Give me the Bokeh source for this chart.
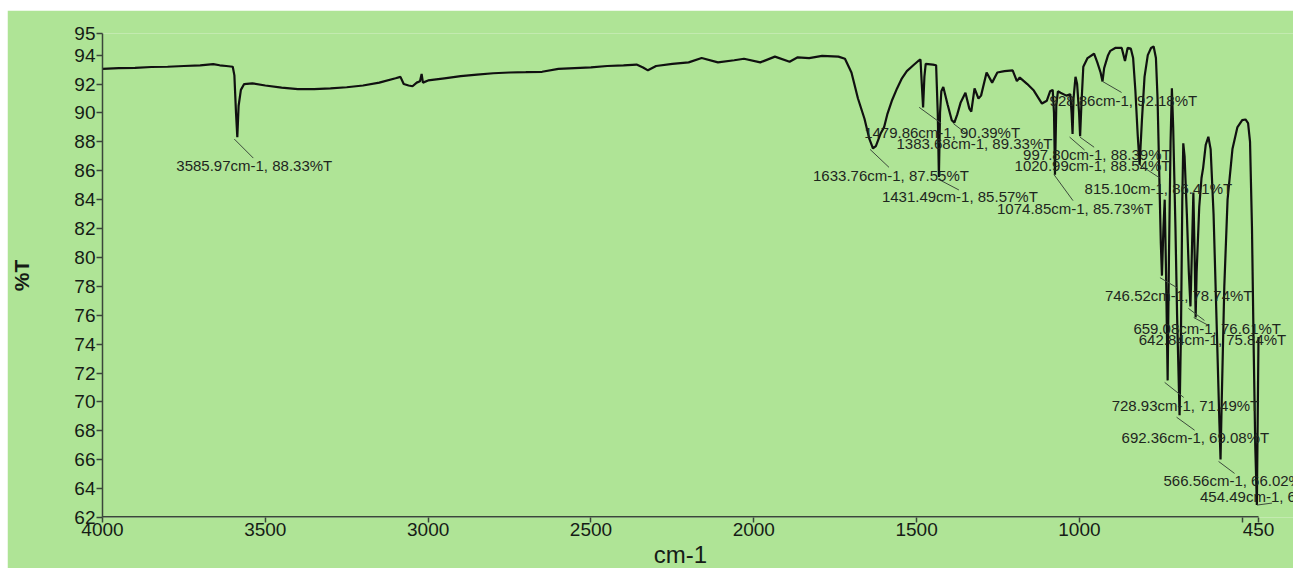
from bokeh.plotting import figure
from bokeh.models import Range1d, FixedTicker, ColumnDataSource, LabelSet, Arrow, Title
from bokeh.core.properties import value
from bokeh.embed import file_html
from bokeh.resources import INLINE

# ---- spectrum (wavenumber cm-1, %T) ----
wavenumber = [4000, 3950, 3900, 3850, 3800, 3750, 3700, 3660, 3640, 3620, 3600, 3595, 3590, 3586, 3582, 3575, 3565,
              3540, 3500, 3450, 3400, 3350, 3300, 3250, 3200, 3150, 3100, 3085, 3075, 3060, 3048, 3035, 3025, 3020,
              3016, 3000, 2950, 2900, 2850, 2800, 2750, 2700, 2650, 2600, 2550, 2500, 2450, 2400, 2360, 2340, 2325,
              2300, 2250, 2200, 2160, 2110, 2060, 2030, 1980, 1935, 1890, 1865, 1830, 1790, 1740, 1720, 1700, 1680,
              1660, 1645, 1634, 1625, 1610, 1600, 1590, 1575, 1560, 1545, 1530, 1510, 1495, 1488, 1484, 1480, 1476,
              1472, 1450, 1440, 1435, 1431.5, 1428, 1424, 1418, 1405, 1392, 1384, 1375, 1365, 1350, 1338, 1332, 1322,
              1310, 1302, 1285, 1268, 1252, 1230, 1205, 1192, 1183, 1160, 1140, 1115, 1100, 1090, 1082, 1078, 1075,
              1071, 1066, 1058, 1040, 1028, 1024, 1021, 1018, 1012, 1007, 1001, 997.8, 994, 988, 975, 955, 945, 935,
              929, 924, 912, 905, 890, 880, 870, 860, 852, 842, 835, 828, 821, 815.1, 808, 800, 790, 780, 772, 765,
              760, 755, 750, 746.5, 742, 738, 734, 729, 725, 720, 716, 712, 705, 700, 692.4, 688, 684, 681, 677, 670,
              664, 659, 655, 650, 646, 643, 640, 632, 625, 620, 612, 604, 597, 588, 578, 570, 566.6, 563, 555, 545,
              530, 515, 500, 490, 482, 476, 470, 465, 460, 455, 450]
transmittance = [93.05, 93.1, 93.12, 93.18, 93.2, 93.25, 93.3, 93.38, 93.3, 93.25, 93.2, 92.6, 90.0, 88.33, 90.5, 91.6,
                 92.0, 92.05, 91.9, 91.75, 91.65, 91.65, 91.7, 91.78, 91.9, 92.1, 92.4, 92.5, 92.0, 91.9, 91.85, 92.1,
                 92.2, 92.7, 92.1, 92.25, 92.4, 92.55, 92.65, 92.75, 92.8, 92.82, 92.85, 93.05, 93.1, 93.15, 93.25,
                 93.3, 93.35, 93.15, 92.95, 93.25, 93.4, 93.5, 93.8, 93.5, 93.65, 93.75, 93.5, 93.9, 93.55, 93.85,
                 93.8, 93.95, 93.9, 93.75, 92.8, 91.0, 89.6, 88.2, 87.55, 87.7, 88.6, 89.0, 89.9, 90.9, 91.7, 92.4,
                 92.9, 93.3, 93.6, 93.7, 92.0, 90.39, 92.5, 93.4, 93.35, 93.3, 90.0, 85.57, 90.0, 91.5, 91.8, 90.6,
                 89.5, 89.33, 89.9, 90.7, 91.4, 90.3, 90.1, 91.7, 91.0, 91.2, 92.8, 92.1, 92.8, 92.9, 92.95, 92.2,
                 92.45, 92.0, 91.55, 90.65, 90.85, 91.5, 91.6, 90.0, 85.73, 90.5, 91.5, 91.4, 91.2, 91.3, 90.0, 88.54,
                 91.0, 92.5, 92.0, 90.0, 88.39, 90.5, 93.2, 93.8, 94.1, 93.5, 92.8, 92.18, 93.1, 94.0, 94.3, 94.5,
                 94.5, 94.5, 93.6, 94.5, 94.45, 93.8, 91.5, 88.5, 86.41, 89.5, 92.5, 94.0, 94.5, 94.6, 93.8, 91.0,
                 86.0, 81.0, 78.74, 82.0, 84.0, 79.0, 71.49, 80.0, 88.0, 91.7, 89.0, 82.0, 76.0, 69.08, 75.0, 84.0,
                 87.9, 87.0, 83.0, 79.0, 76.61, 80.0, 84.5, 80.0, 75.84, 79.0, 83.5, 85.5, 86.2, 87.8, 88.35, 87.5,
                 83.0, 75.0, 68.5, 66.02, 70.0, 78.0, 84.0, 87.5, 89.0, 89.5, 89.55, 89.3, 88.0, 82.0, 74.0, 67.0,
                 62.86, 74.5]

# ---- peak annotations ----
peak_wn = [3585.97, 1633.76, 1479.86, 1383.68, 1431.49, 1074.85, 928.86, 997.80, 1020.99, 815.10,
           746.52, 659.08, 642.84, 728.93, 692.36, 566.56, 454.49]
peak_t = [88.33, 87.55, 90.39, 89.33, 85.57, 85.73, 92.18, 88.39, 88.54, 86.41,
          78.74, 76.61, 75.84, 71.49, 69.08, 66.02, 62.86]
peak_text = [f"{w:.2f}cm-1, {t:.2f}%T" for w, t in zip(peak_wn, peak_t)]

# ---- axis ticks ----
x_ticks = [4000, 3500, 3000, 2500, 2000, 1500, 1000, 500, 450]
y_ticks = [62, 64, 66, 68, 70, 72, 74, 76, 78, 80, 82, 84, 86, 88, 90, 92, 94, 95.5]

# ---- layout (screen-pixel offsets of leaders and labels from each peak; +down) ----
lead_s_dx = [-3, -3, -4, -1, -1, -1, 0, 0, -3, 0, -2, -2, -2, -3, -3, -2, 0]
lead_s_dy = [2, 1, 0, 1, 2, 0, 0, 1, 3, 0, 2, 2, 0, 2, 2, 2, 0]
lead_e_dx = [16, 16, 18, 12, 20, 18, 19, 14, 12, 20, 15, 14, 13, 16, 15, 14, 15]
lead_e_dy = [21, 19, 16, 11, 13, 26, 11, 11, 16, 13, 12, 14, 8, 17, 15, 14, -2]
text_dx = [-61, -60, -59, -58, -57, -58, -53, -57, -58, -55, -57, -57, -57, -56, -58, -57, -57]
text_dy = [28, 27, 25, 21, 20, 34, 19, 18, 31, 24, 20, 22, 22, 25, 22, 21, -9]

X0, X1 = 4000, 450
Y0, Y1 = 62, 95.5
AXW, FH = 1156, 484          # drawn axis length / frame height in px
EXTRA = 36                   # frame continues past the 450 end so labels are not cut
sx = AXW / (X0 - X1)
sy = FH / (Y1 - Y0)

BG = "#afe496"
INK = "#161c16"
FONT = "Liberation Sans"

p = figure(frame_width=AXW + EXTRA, frame_height=FH, output_backend="svg", toolbar_location=None,
           x_range=Range1d(X0, X1 - EXTRA / sx), y_range=Range1d(Y0, Y1),
           min_border_left=94, min_border_top=23, min_border_right=0, min_border_bottom=51,
           background_fill_color=BG, border_fill_color=BG, outline_line_color=None)
p.margin = (10, 0, 0, 7)
p.grid.visible = False

# bottom axis line only over the 4000..450 span
p.segment(x0=[X0], y0=[Y0], x1=[X1], y1=[Y0], line_color="#3a463a", line_width=3)

p.line(wavenumber, transmittance, line_color="#101010", line_width=2.2)

src = ColumnDataSource(dict(
    x=peak_wn, y=peak_t, text=peak_text,
    dx=text_dx, dy=[-d for d in text_dy],
    xs=[w - d / sx for w, d in zip(peak_wn, lead_s_dx)],
    ys=[t - d / sy for t, d in zip(peak_t, lead_s_dy)],
    xe=[w - d / sx for w, d in zip(peak_wn, lead_e_dx)],
    ye=[t - d / sy for t, d in zip(peak_t, lead_e_dy)],
))
p.add_layout(Arrow(end=None, x_start="xs", y_start="ys", x_end="xe", y_end="ye", source=src,
                   line_color="#3c4a3c", line_width=1))
p.add_layout(LabelSet(x="x", y="y", text="text", x_offset="dx", y_offset="dy", source=src,
                      text_font=value(FONT), text_font_size="15px", text_color="#1e261e",
                      text_align="left", text_baseline="middle"))

for ax in (p.xaxis[0], p.yaxis[0]):
    ax.axis_line_color = "#3a463a"
    ax.axis_line_width = 1.5
    ax.major_tick_line_color = "#3a463a"
    ax.major_tick_line_width = 1.5
    ax.major_tick_in = 0
    ax.minor_tick_line_color = None
    ax.major_label_text_font = FONT
    ax.major_label_text_font_size = "19px"
    ax.major_label_text_color = INK
    ax.axis_label_text_font = FONT
    ax.axis_label_text_color = INK
    ax.axis_label_text_font_style = "normal"

p.xaxis.axis_line_color = None
p.xaxis.ticker = FixedTicker(ticks=x_ticks)
p.xaxis.major_label_overrides = {500: ""}
p.xaxis.major_tick_out = 5
p.xaxis.major_label_standoff = 0

# x-axis title centred under the 4000..450 span (offset from the frame's left edge)
title_w = 2.222 * 24
p.add_layout(Title(text="cm-1", align="left", offset=AXW / 2 - title_w / 2, standoff=0,
                   text_font=FONT, text_font_size="24px", text_color=INK,
                   text_font_style="normal"), "below")

p.yaxis.ticker = FixedTicker(ticks=y_ticks)
p.yaxis.major_label_overrides = {95.5: "95"}
p.yaxis.major_tick_out = 6
p.yaxis.major_label_standoff = 1
p.yaxis.axis_label = "%T"
p.yaxis.axis_label_text_font_size = "21px"
p.yaxis.axis_label_text_font_style = "bold"
p.yaxis.axis_label_standoff = 38

open("out.html", "w").write(file_html(p, INLINE))
